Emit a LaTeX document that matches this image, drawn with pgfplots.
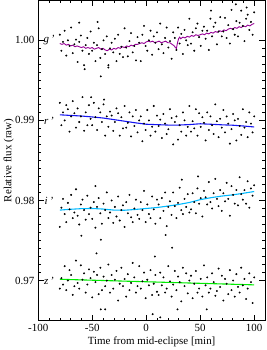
\documentclass[border=0pt]{standalone}
\usepackage{fontspec}
\setmainfont{Liberation Serif}
\usepackage{pgfplots}
\pgfplotsset{compat=1.18}
\usepackage{pgfplotstable}
\definecolor{gcol}{RGB}{150,0,150}
\definecolor{rcol}{RGB}{20,20,240}
\definecolor{icol}{RGB}{0,185,255}
\definecolor{zcol}{RGB}{0,235,0}

\pgfplotstableread{
x g r i z
-80 1.0007 0.9922 0.9767 0.9690
-78.5 0.9987 0.9894 0.9791 0.9703
-77 0.9998 0.9910 0.9802 0.9695
-75.5 1.0012 0.9900 0.9783 0.9718
-74 0.9981 0.9919 0.9773 0.9688
-72.5 1.0000 0.9914 0.9797 0.9700
-71 0.9993 0.9886 0.9789 0.9713
-69.5 1.0016 0.9905 0.9807 0.9707
-68 0.9984 0.9924 0.9778 0.9682
-66.5 0.9995 0.9909 0.9785 0.9693
-65 1.0001 0.9891 0.9814 0.9725
-63.5 0.9973 0.9915 0.9781 0.9697
-62 0.9998 0.9898 0.9770 0.9690
-60.5 1.0006 0.9905 0.9795 0.9719
-59 0.9987 0.9929 0.9801 0.9701
-57.5 0.9969 0.9887 0.9788 0.9709
-56 0.9994 0.9910 0.9776 0.9685
-54.5 1.0003 0.9894 0.9806 0.9695
-53 0.9983 0.9919 0.9783 0.9714
-51.5 1.0011 0.9902 0.9791 0.9703
-50 0.9987 0.9894 0.9777 0.9679
-48.5 0.9997 0.9922 0.9798 0.9711
-47 0.9974 0.9904 0.9766 0.9698
-45.5 0.9994 0.9888 0.9792 0.9707
-44 1.0015 0.9915 0.9803 0.9683
-42.5 0.9978 0.9910 0.9784 0.9716
-41 0.9989 0.9898 0.9771 0.9688
-39.5 1.0000 0.9920 0.9796 0.9705
-38 0.9983 0.9881 0.9788 0.9693
-36.5 1.0005 0.9905 0.9810 0.9700
-35 0.9969 0.9892 0.9778 0.9720
-33.5 0.9990 0.9911 0.9785 0.9685
-32 0.9997 0.9906 0.9800 0.9707
-30.5 0.9985 0.9887 0.9772 0.9690
-29 1.0002 0.9898 0.9792 0.9701
-27.5 0.9974 0.9915 0.9780 0.9712
-26 1.0007 0.9909 0.9805 0.9675
-24.5 0.9983 0.9881 0.9775 0.9696
-23 0.9992 0.9904 0.9788 0.9716
-21.5 0.9979 0.9890 0.9794 0.9693
-20 1.0015 0.9918 0.9767 0.9702
-18.5 0.9991 0.9891 0.9798 0.9680
-17 0.9980 0.9897 0.9784 0.9708
-15.5 0.9999 0.9910 0.9807 0.9688
-14 1.0009 0.9880 0.9779 0.9697
-12.5 0.9985 0.9905 0.9773 0.9722
-11 0.9993 0.9893 0.9790 0.9704
-9.5 0.9975 0.9913 0.9801 0.9685
-8 1.0004 0.9885 0.9782 0.9693
-6.5 0.9997 0.9900 0.9777 0.9718
-5 0.9974 0.9905 0.9798 0.9690
-3.5 1.0007 0.9874 0.9788 0.9699
-2 1.0018 0.9896 0.9812 0.9710
-0.5 0.9993 0.9888 0.9773 0.9678
1 0.9987 0.9913 0.9795 0.9701
2.5 1.0000 0.9900 0.9783 0.9694
4 1.0012 0.9881 0.9778 0.9713
5.5 0.9982 0.9892 0.9805 0.9682
7 1.0005 0.9918 0.9789 0.9696
8.5 0.9997 0.9886 0.9771 0.9707
10 1.0010 0.9906 0.9801 0.9686
11.5 0.9989 0.9893 0.9795 0.9682
13 1.0021 0.9901 0.9778 0.9710
14.5 0.9995 0.9878 0.9803 0.9694
16 0.9984 0.9908 0.9787 0.9704
17.5 1.0003 0.9896 0.9810 0.9685
19 1.0016 0.9883 0.9768 0.9690
20.5 0.9991 0.9889 0.9792 0.9718
22 0.9999 0.9914 0.9799 0.9699
23.5 0.9977 0.9903 0.9782 0.9680
25 1.0010 0.9870 0.9810 0.9695
26.5 1.0003 0.9898 0.9793 0.9712
28 0.9988 0.9905 0.9778 0.9688
29.5 1.0016 0.9876 0.9797 0.9705
31 0.9996 0.9894 0.9816 0.9698
32.5 1.0008 0.9886 0.9788 0.9674
34 0.9983 0.9910 0.9783 0.9716
35.5 1.0013 0.9900 0.9802 0.9693
37 1.0000 0.9881 0.9792 0.9709
38.5 0.9994 0.9892 0.9808 0.9684
40 1.0027 0.9918 0.9785 0.9700
41.5 0.9996 0.9886 0.9789 0.9706
43 1.0010 0.9899 0.9809 0.9678
44.5 0.9987 0.9890 0.9798 0.9696
46 1.0015 0.9914 0.9784 0.9712
47.5 1.0021 0.9881 0.9815 0.9685
49 1.0004 0.9909 0.9796 0.9690
50.5 0.9993 0.9892 0.9803 0.9702
52 1.0012 0.9904 0.9780 0.9680
53.5 1.0017 0.9897 0.9812 0.9719
55 1.0002 0.9875 0.9804 0.9694
56.5 1.0012 0.9910 0.9795 0.9704
58 0.9988 0.9888 0.9823 0.9685
59.5 1.0027 0.9905 0.9798 0.9690
61 1.0005 0.9894 0.9790 0.9709
62.5 1.0017 0.9883 0.9809 0.9698
64 1.0022 0.9920 0.9827 0.9681
65.5 0.9995 0.9899 0.9802 0.9687
67 1.0011 0.9879 0.9793 0.9715
68.5 1.0029 0.9902 0.9813 0.9692
70 1.0005 0.9891 0.9787 0.9706
71.5 1.0011 0.9913 0.9809 0.9675
73 1.0028 0.9885 0.9799 0.9702
74.5 1.0003 0.9905 0.9822 0.9696
76 1.0019 0.9896 0.9802 0.9683
77.5 0.9996 0.9871 0.9781 0.9713
79 1.0038 0.9889 0.9818 0.9688
80.5 1.0014 0.9908 0.9807 0.9700
82 1.0007 0.9900 0.9796 0.9680
83.5 1.0024 0.9875 0.9813 0.9708
85 1.0005 0.9902 0.9794 0.9692
86.5 1.0022 0.9893 0.9829 0.9685
88 1.0037 0.9882 0.9808 0.9716
89.5 1.0018 0.9914 0.9801 0.9694
91 0.9999 0.9891 0.9813 0.9702
92.5 1.0027 0.9898 0.9796 0.9677
94 1.0032 0.9879 0.9824 0.9690
95.5 1.0013 0.9910 0.9791 0.9709
97 1.0023 0.9896 0.9815 0.9698
98.5 1.0007 0.9885 0.9806 0.9672
100 1.0035 0.9905 0.9819 0.9704
}\datatab

\pgfplotstableread{
x y
-57 0.9964
-42 0.9955
-35 0.9966
-45 1.0023
-62 1.0022
60 1.0037
83 1.0045
93 1.0041
-51 0.9929
-39 0.9926
-60 0.9756
-42 0.9751
-47 0.9818
33 0.9826
48 0.9830
-46 0.9734
18 0.9757
24 0.9741
8 0.9730
-42 0.9664
-38 0.9664
6 0.9658
13 0.9654
29 0.9664
56 0.9664
}\extratab

\pgfplotstableread{
x y
-80 0.9996
-78 0.9995
-76 0.9996
-74 0.9994
-72 0.9995
-70 0.9993
-68 0.9994
-66 0.9992
-64 0.9993
-62 0.9992
-60 0.9991
-58 0.9992
-56 0.9990
-54 0.9991
-52 0.9990
-50 0.9991
-48 0.9989
-46 0.9990
-44 0.9991
-42 0.9989
-40 0.9990
-38 0.9988
-36 0.9987
-34 0.9989
-32 0.9988
-30 0.9990
-28 0.9989
-26 0.9991
-24 0.9990
-22 0.9992
-20 0.9991
-18 0.9993
-16 0.9992
-14 0.9994
-12 0.9993
-10 0.9995
-8 0.9995
-6 0.9996
-4 0.9997
-2 0.9996
0 0.9998
2 0.9999
4 0.9998
6 0.9999
8 0.9997
10 0.9998
12 0.9999
14 0.9997
16 0.9998
18 0.9999
20 0.9997
22 0.9997
24 0.9995
26 0.9993
27 0.9991
28 0.9990
29 0.9997
30 1.0002
31 1.0004
32 1.0002
34 1.0004
36 1.0003
38 1.0005
40 1.0004
42 1.0006
44 1.0005
46 1.0007
48 1.0006
50 1.0007
52 1.0008
54 1.0007
56 1.0009
58 1.0008
60 1.0010
62 1.0009
64 1.0011
66 1.0010
68 1.0012
70 1.0011
72 1.0013
74 1.0012
76 1.0014
78 1.0015
80 1.0014
82 1.0016
84 1.0015
86 1.0017
88 1.0016
90 1.0018
92 1.0017
94 1.0019
96 1.0018
98 1.0020
100 1.0021
}\gline

\pgfplotstableread{
x r i
-80 0.99070 0.97880
-70 0.99062 0.97890
-60 0.99055 0.97898
-50 0.99043 0.97900
-40 0.99030 0.97893
-30 0.99010 0.97880
-20 0.98990 0.97878
-10 0.98970 0.97888
0 0.98952 0.97900
10 0.98947 0.97912
20 0.98942 0.97930
30 0.98942 0.97950
40 0.98948 0.97975
50 0.98958 0.98010
60 0.98952 0.98035
70 0.98945 0.98055
80 0.98940 0.98070
90 0.98930 0.98090
100 0.98918 0.98112
}\riline

\begin{document}
\fontsize{11}{13}\selectfont
\begin{tikzpicture}
\begin{axis}[
  scale only axis, width=228pt, height=322pt,
  xmin=-100, xmax=110, ymin=0.965, ymax=1.005,
  xtick={-100,-50,0,50,100}, minor x tick num=4,
  ytick={0.97,0.98,0.99,1.00}, minor y tick num=9,
  scaled y ticks=false,
  yticklabel style={/pgf/number format/.cd, fixed, fixed zerofill, precision=2},
  /pgf/number format/assume math mode=true,
  tick align=inside, major tick length=6pt, minor tick length=3pt,
  tick style={black, line width=0.5pt},
  axis line style={line width=0.6pt},
  xlabel={Time from mid-eclipse [min]},
  ylabel={Relative flux (raw)},
  xlabel style={yshift=3pt},
  ylabel style={yshift=-6pt},
  every tick label/.append style={font=\fontsize{11}{13}\selectfont},
]
\addplot[only marks, mark=*, mark size=0.75pt, black] table[x=x, y=g] {\datatab};
\addplot[only marks, mark=*, mark size=0.75pt, black] table[x=x, y=r] {\datatab};
\addplot[only marks, mark=*, mark size=0.75pt, black] table[x=x, y=i] {\datatab};
\addplot[only marks, mark=*, mark size=0.75pt, black] table[x=x, y=z] {\datatab};
\addplot[only marks, mark=*, mark size=0.75pt, black] table[x=x, y=y] {\extratab};
\addplot[gcol, line width=0.9pt] table[x=x, y=y] {\gline};
\addplot[rcol, line width=1.1pt] table[x=x, y=r] {\riline};
\addplot[icol, line width=1.1pt] table[x=x, y=i] {\riline};
\addplot[zcol, line width=1.1pt] coordinates {(-80,0.97016) (100,0.96946)};
\node at (axis cs:-90,1.0000) {\textit{g\,'}};
\node at (axis cs:-90,0.9900) {\textit{r\,'}};
\node at (axis cs:-90,0.9800) {\textit{i\,'}};
\node at (axis cs:-90,0.9700) {\textit{z\,'}};
\end{axis}
\end{tikzpicture}
\end{document}
